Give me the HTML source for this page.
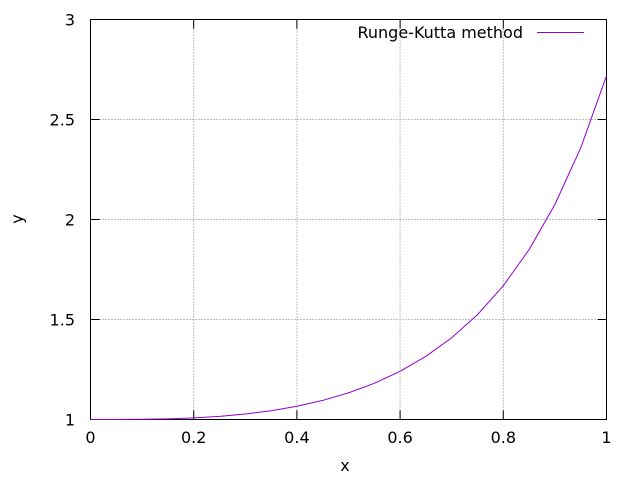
<!DOCTYPE html>
<html><head><meta charset="utf-8"><style>
body{margin:0;background:#fff;}
svg text{font-family:"DejaVu Sans","Liberation Sans",sans-serif;font-size:16px;fill:#000;}
</style></head><body>
<svg id="chart" width="640" height="480" viewBox="0 0 640 480" xmlns="http://www.w3.org/2000/svg">
<g id="grid"></g>
<g id="ticks"></g>
<rect x="90.5" y="19.5" width="516" height="400" fill="none" stroke="#000" stroke-width="1"/>
<g id="series"></g>
<text x="345" y="471" text-anchor="middle">x</text>
<text x="17" y="219" text-anchor="middle" dominant-baseline="central" transform="rotate(-90 17 219)">y</text>
<g>
<text x="523" y="38" text-anchor="end">Runge-Kutta method</text>
<line x1="537" y1="32.5" x2="584" y2="32.5" stroke="#9400d3" stroke-width="1"/>
</g>
</svg>
<script>
const xValues=[0,0.05,0.1,0.15,0.2,0.25,0.3,0.35,0.4,0.45,0.5,0.55,0.6,0.65,0.7,0.75,0.8,0.85,0.9,0.95,1.0];
const yValues=[1,1.0001,1.001,1.0034,1.008,1.0158,1.0274,1.0438,1.0661,1.0954,1.1332,1.1808,1.2411,1.3158,1.4087,1.5245,1.6686,1.8497,2.0751,2.358,2.7183];
const xTicks=[0,0.2,0.4,0.6,0.8,1];
const xTickLabels=["0","0.2","0.4","0.6","0.8","1"];
const yTicks=[1,1.5,2,2.5,3];
const yTickLabels=["1","1.5","2","2.5","3"];
const NS="http://www.w3.org/2000/svg";
const L=90.5,R=606.5,T=19.5,B=419.5;
function sx(v){return L+(v-0)/(1-0)*(R-L);}
function sy(v){return B-(v-1)/(3-1)*(B-T);}
function mk(tag,attrs,parent){const e=document.createElementNS(NS,tag);for(const k in attrs)e.setAttribute(k,attrs[k]);parent.appendChild(e);return e;}
const grid=document.getElementById('grid'),ticks=document.getElementById('ticks'),series=document.getElementById('series');
xTicks.forEach((v,i)=>{
  const x=sx(v);
  if(v>0&&v<1){const g=mk('line',{x1:x,y1:T,x2:x,y2:B,stroke:'#808080','stroke-dasharray':'1,2'},grid);
  
  }
  const t1=mk('line',{x1:x,y1:B,x2:x,y2:B-9,stroke:'#000'},ticks);
  
  
  const t2=mk('line',{x1:x,y1:T,x2:x,y2:T+9,stroke:'#000'},ticks);
  
  
  const tx=mk('text',{x:x,y:443,'text-anchor':'middle'},ticks);tx.textContent=xTickLabels[i];
  
  
});
yTicks.forEach((v,i)=>{
  const y=sy(v);
  if(v>1&&v<3){const g=mk('line',{x1:L,y1:y,x2:R,y2:y,stroke:'#808080','stroke-dasharray':'1,2'},grid);
  
  }
  const t1=mk('line',{x1:L,y1:y,x2:L+9,y2:y,stroke:'#000'},ticks);
  
  
  const t2=mk('line',{x1:R,y1:y,x2:R-9,y2:y,stroke:'#000'},ticks);
  
  
  const tx=mk('text',{x:75,y:y+6,'text-anchor':'end'},ticks);tx.textContent=yTickLabels[i];
  
  
});
const pts=xValues.map((x,i)=>sx(x).toFixed(2)+','+sy(yValues[i]).toFixed(2)).join(' ');
const pl=mk('polyline',{points:pts,fill:'none',stroke:'#9400d3','stroke-width':1},series);


</script>
</body></html>
